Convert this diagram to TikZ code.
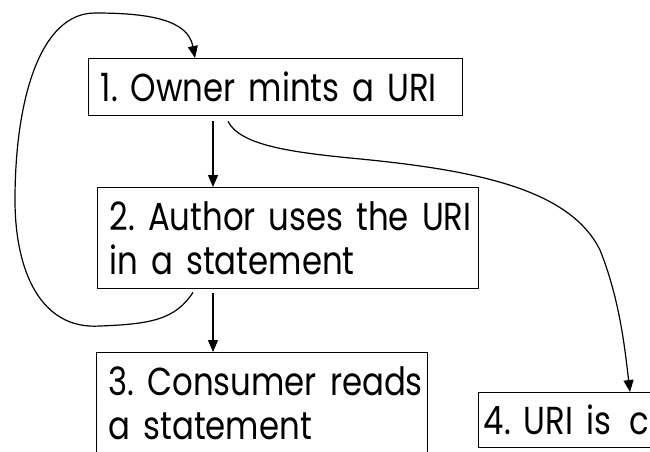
\documentclass[tikz,border=0pt]{standalone}
\usepackage{fontspec}
\setmainfont{Poppins}[FakeStretch=0.83]
\frenchspacing
\usetikzlibrary{
  calc, % For offsets from the boxes
  arrows.meta % For arrow tips
}

\begin{document}
\begin{tikzpicture}[
    x=1pt, y=-1pt, % Pixel-like units, y grows downward
    >={Triangle[width=10pt, length=12pt]}, % Default arrow tip
    stepbox/.style={draw, line width=1.4pt, anchor=north west, inner xsep=12pt,
      align=left, font=\fontsize{39}{44}\selectfont}, % Style for the step boxes
    flow/.style={->, line width=1.2pt}, % Style for the connectors
  ]

  % Rahmen
  \useasboundingbox (0,0) rectangle (650,451);
  \clip (0,0) rectangle (650,451);

  % Schritte
  \node[stepbox, text width=350pt, minimum height=57pt] (owner) at (88,58)
    {\mbox{1. Owner mints a URI}};
  \node[stepbox, text width=357pt, minimum height=101pt] (author) at (97,187)
    {\mbox{2. Author uses the URI}\\\mbox{in a statement}};
  \node[stepbox, text width=307pt, minimum height=101pt] (consumer) at (96,352)
    {\mbox{3. Consumer reads}\\\mbox{a statement}};
  \node[stepbox, inner xsep=5pt, text width=250pt, minimum height=55pt] (deref) at (478,392)
    {\mbox{4. URI is\hspace{5pt} c}};

  % Pfeile nach unten
  \draw[flow] ($(owner.south west)+(125,5)$) coordinate (ownerout) -- (ownerout |- author.north);
  \draw[flow] ($(author.south west)+(116,4)$) coordinate (authorout) -- (authorout |- consumer.north);

  % Schleife zurück zu Schritt 1
  \draw[flow] ($(author.south west)+(96,3)$)
    .. controls (175,320) and (150,324) .. (100,326)
    .. controls (40,330) and (15,270) .. (15,200)
    .. controls (15,100) and (40,13) .. (95,13)
    .. controls (150,13) and (188,20) .. ($(owner.north west)+(107,0)$);

  % Bogen zu Schritt 4
  \draw[flow] ($(owner.south west)+(140,5)$)
    .. controls (240,145) and (290,152) .. (350,158)
    .. controls (480,170) and (570,190) .. (600,250)
    .. controls (620,300) and (625,350) .. ($(deref.north west)+(152,0)$);

\end{tikzpicture}
\end{document}
